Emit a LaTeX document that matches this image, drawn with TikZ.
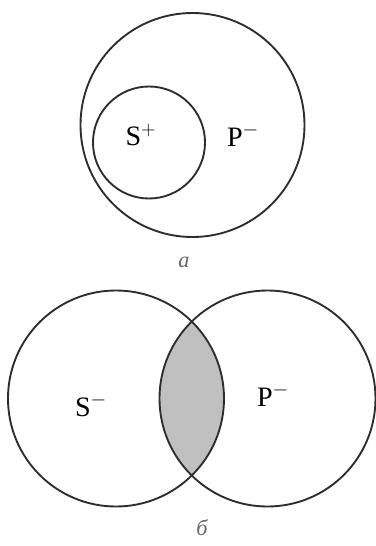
\documentclass[tikz,border=0pt]{standalone}
\usepackage{fontspec}
\setmainfont{Liberation Serif}
\usetikzlibrary{positioning}
\definecolor{cL}{RGB}{45,45,45}
\definecolor{cG}{RGB}{192,192,192}

\begin{document}
\begin{tikzpicture}[x=0.03cm, y=-0.03cm,
   ring/.style={draw=cL, line width=1.6pt},
   lbl/.style={font=\fontsize{24}{28}\selectfont},
   tagtext/.style={font=\fontsize{19}{22}\selectfont\itshape, text=black!60}]
   \useasboundingbox (0,0) rectangle (376,546);

   % Diagram a: S inside P
   \coordinate (pA) at (192.5,125);
   \coordinate (sA) at (149,142.5);
   \draw[ring] (pA) circle [radius=3.36cm];
   \draw[ring] (sA) circle [radius=1.68cm];
   \node[lbl] (sLabelA) at (141,135) {S$^{+}$};
   \node[lbl] (pLabelA) at (243,135) {P$^{-}$};
   \node[tagtext] (tagA) at (184,262) {а};

   % Diagram b: overlapping S and P
   \coordinate (sB) at (116,398.5);
   \coordinate (pB) at (267.5,398.5);
   \begin{scope}
      \clip (sB) circle [radius=3.24cm];
      \fill[cG] (pB) circle [radius=3.24cm];
   \end{scope}
   \draw[ring] (sB) circle [radius=3.24cm];
   \draw[ring] (pB) circle [radius=3.24cm];
   \node[lbl] (sLabelB) at (91,405) {S$^{-}$};
   \node[lbl] (pLabelB) at (273,395) {P$^{-}$};
   \node[tagtext] (tagB) at (202,528) {б};
\end{tikzpicture}
\end{document}
